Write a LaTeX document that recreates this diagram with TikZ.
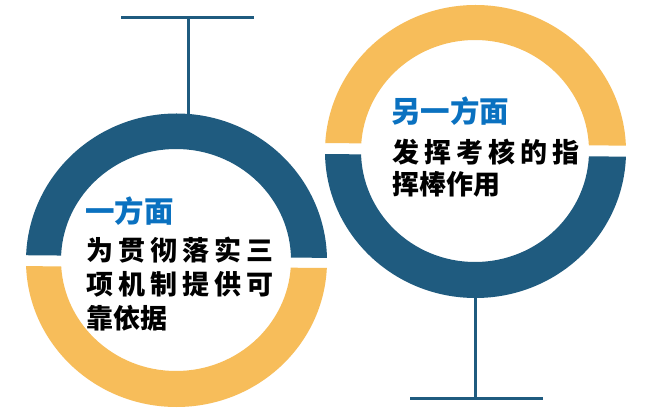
\documentclass[tikz,border=0pt]{standalone}
\usepackage{fontspec}
\newfontfamily\cjk{Noto Sans CJK SC}[BoldFont={Noto Sans CJK SC Black}]
\definecolor{ringblue}{HTML}{1F5B7F}
\definecolor{ringyellow}{HTML}{F7BD5A}
\definecolor{titleblue}{HTML}{0A71C0}
\begin{document}
\begin{tikzpicture}[x=1pt,y=-1pt,
  stem/.style={draw=ringblue,line width=3pt},
  ttl/.style={anchor=base west,inner sep=0pt,text=titleblue,font=\cjk\bfseries\fontsize{29.5}{29.5}\selectfont},
  body/.style={anchor=base west,inner sep=0pt,text=black,font=\cjk\bfseries\fontsize{27}{27}\selectfont}]
\useasboundingbox (0,0) rectangle (666,411);
\fill[white] (0,0) rectangle (666,411);
% left ring
\begin{scope}
  \clip (0,0) -- (340,0) -- (340,258) -- (0,255) -- cycle;
  \fill[ringblue,even odd rule] (176.5,261) ellipse [x radius=150.5, y radius=147.5] (176,260) ellipse [x radius=115, y radius=111];
\end{scope}
\begin{scope}
  \clip (0,266) -- (340,268) -- (340,411) -- (0,411) -- cycle;
  \fill[ringyellow,even odd rule] (176.5,261) ellipse [x radius=150.5, y radius=146] (176,260) ellipse [x radius=115, y radius=111];
\end{scope}
% right ring
\begin{scope}
  \clip (320,0) -- (666,0) -- (666,146) -- (320,143) -- cycle;
  \fill[ringyellow,even odd rule] (475.5,151.5) ellipse [x radius=150.5, y radius=146.5] (475,151) ellipse [x radius=114, y radius=111];
\end{scope}
\begin{scope}
  \clip (320,154) -- (666,157) -- (666,411) -- (320,411) -- cycle;
  \fill[ringblue,even odd rule] (475.5,151.5) ellipse [x radius=150.5, y radius=146.5] (475,151) ellipse [x radius=114, y radius=111];
\end{scope}
% stems
\coordinate (ltop) at (188,114);
\coordinate (lbar) at (188,18);
\coordinate (lbarA) at (121,18);
\coordinate (lbarB) at (254,18);
\draw[stem] (ltop) -- (lbar);
\draw[stem] (lbarA) -- (lbarB);
\coordinate (rbot) at (475.5,297);
\coordinate (rbar) at (475.5,398);
\coordinate (rbarA) at (410,398);
\coordinate (rbarB) at (543,398);
\draw[stem] (rbot) -- (rbar);
\draw[stem] (rbarA) -- (rbarB);
% left text
\node[ttl] (lt) at (85,223) {一方面};
\node[body] (l1) at (86,261) {\makebox[187pt][s]{为\hfil 贯\hfil 彻\hfil 落\hfil 实\hfil 三}};
\node[body] (l2) at (86,295) {\makebox[187pt][s]{项\hfil 机\hfil 制\hfil 提\hfil 供\hfil 可}};
\node[body] (l3) at (86,328) {靠依据};
% right text
\node[ttl] (rt) at (391,123) {另一方面};
\node[body] (r1) at (392,163) {\makebox[187pt][s]{发\hfil 挥\hfil 考\hfil 核\hfil 的\hfil 指}};
\node[body] (r2) at (392,195) {挥棒作用};
\end{tikzpicture}
\end{document}
